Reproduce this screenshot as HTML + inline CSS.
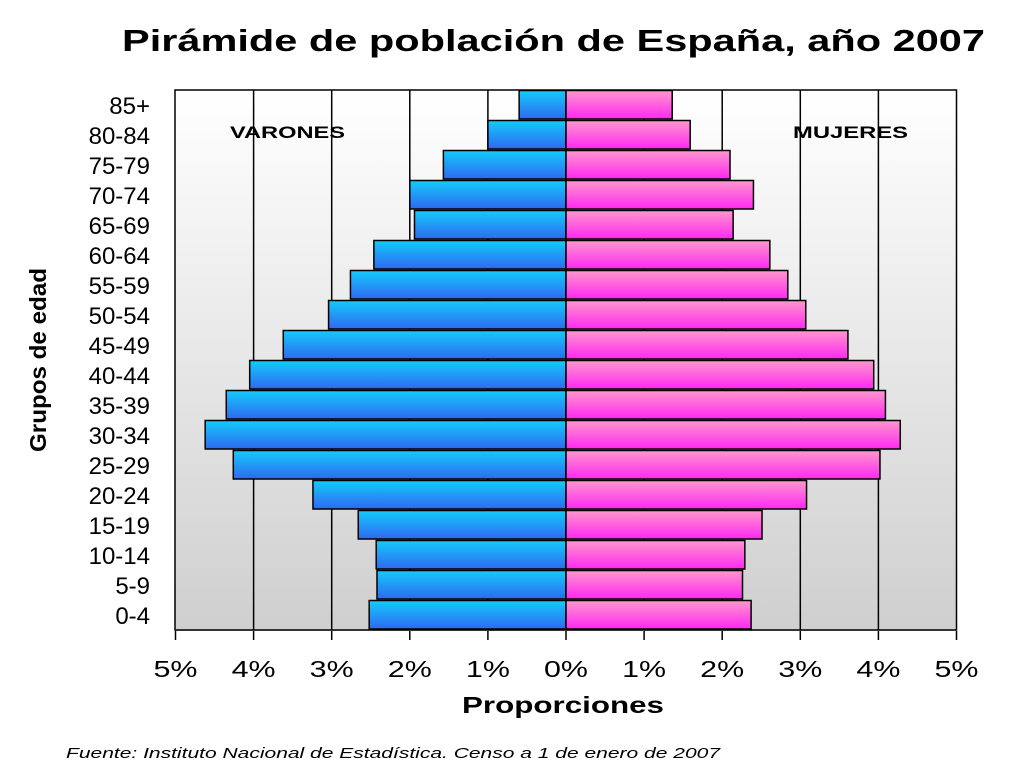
<!DOCTYPE html>
<html><head><meta charset="utf-8"><style>
body{margin:0;background:#fff;width:1024px;height:768px;overflow:hidden;font-family:"Liberation Sans",Arial,sans-serif}
</style></head><body>
<svg width="1024" height="768" xmlns="http://www.w3.org/2000/svg">
<defs>
<linearGradient id="bg" x1="0" y1="0" x2="0" y2="1"><stop offset="0" stop-color="#ffffff"/><stop offset="1" stop-color="#cfcfcf"/></linearGradient>
<linearGradient id="gb" x1="0" y1="0" x2="0" y2="1"><stop offset="0" stop-color="#12ccfa"/><stop offset="1" stop-color="#3068f2"/></linearGradient>
<linearGradient id="gp" x1="0" y1="0" x2="0" y2="1"><stop offset="0" stop-color="#ff98cc"/><stop offset="1" stop-color="#ff28f2"/></linearGradient>
</defs>
<text x="122" y="51" font-size="31" font-weight="bold" textLength="863" lengthAdjust="spacingAndGlyphs">Pirámide de población de España, año 2007</text>
<rect x="175" y="90" width="781" height="541" fill="url(#bg)"/>
<g id="grid"></g>
<g id="bars"></g>
<g id="axes"></g>
<text x="230" y="138" font-size="17" font-weight="bold" textLength="115" lengthAdjust="spacingAndGlyphs">VARONES</text>
<text x="793" y="138" font-size="17" font-weight="bold" textLength="115" lengthAdjust="spacingAndGlyphs">MUJERES</text>
<text transform="translate(46,452) rotate(-90)" font-size="23" font-weight="bold" textLength="184" lengthAdjust="spacingAndGlyphs">Grupos de edad</text>
<text x="462" y="713" font-size="23" font-weight="bold" textLength="202" lengthAdjust="spacingAndGlyphs">Proporciones</text>
<text x="66" y="758" font-size="14.5" font-style="italic" textLength="654" lengthAdjust="spacingAndGlyphs">Fuente: Instituto Nacional de Estadística. Censo a 1 de enero de 2007</text>
</svg>
<script>
const ageGroups=["85+","80-84","75-79","70-74","65-69","60-64","55-59","50-54","45-49","40-44","35-39","30-34","25-29","20-24","15-19","10-14","5-9","0-4"];
const males=[0.60,1.00,1.57,2.00,1.94,2.46,2.76,3.04,3.62,4.05,4.35,4.62,4.26,3.24,2.66,2.43,2.42,2.52];
const females=[1.36,1.59,2.10,2.40,2.14,2.61,2.84,3.07,3.61,3.94,4.09,4.28,4.02,3.08,2.51,2.29,2.26,2.37];
const xTicks=[-5,-4,-3,-2,-1,0,1,2,3,4,5];
const NS="http://www.w3.org/2000/svg";
const x0=566,pxPer=78.1,plotTop=90,rowH=30;
const X=v=>x0+v*pxPer;
const Y=i=>plotTop+i*rowH;
function mk(t,a,p){const e=document.createElementNS(NS,t);for(const k in a)e.setAttribute(k,a[k]);p.appendChild(e);return e;}
const grid=document.getElementById('grid'),bars=document.getElementById('bars'),axes=document.getElementById('axes');
xTicks.forEach(t=>{
 if(t!==0&&Math.abs(t)!==5){const l=mk('line',{x1:X(t),x2:X(t),y1:plotTop,y2:plotTop+ageGroups.length*rowH,stroke:'#000','stroke-width':1.5},grid);
 
 }
 const tk=mk('line',{x1:X(t),x2:X(t),y1:631,y2:640,stroke:'#000','stroke-width':1.5},axes);
 
 
 const tx=mk('text',{x:X(t),y:677,'text-anchor':'middle','font-size':23,textLength:44,lengthAdjust:'spacingAndGlyphs'},axes);
 tx.textContent=Math.abs(t)+'%';
 
 
});
ageGroups.forEach((g,i)=>{
 const y=Y(i)+0.5,h=rowH-1.5;
 const m=mk('rect',{x:X(-males[i]),y:y,width:X(0)-X(-males[i]),height:h,fill:'url(#gb)',stroke:'#000','stroke-width':1.5},bars);
 
 
 const f=mk('rect',{x:X(0),y:y,width:X(females[i])-X(0),height:h,fill:'url(#gp)',stroke:'#000','stroke-width':1.5},bars);
 
 
 const lb=mk('text',{x:150,y:Y(i)+24,'text-anchor':'end','font-size':24},axes);
 lb.textContent=g;
 
 
});
const fr=mk('rect',{x:175,y:plotTop,width:X(5)-175,height:ageGroups.length*rowH,fill:'none',stroke:'#000','stroke-width':1.5},axes);


</script>
</body></html>
